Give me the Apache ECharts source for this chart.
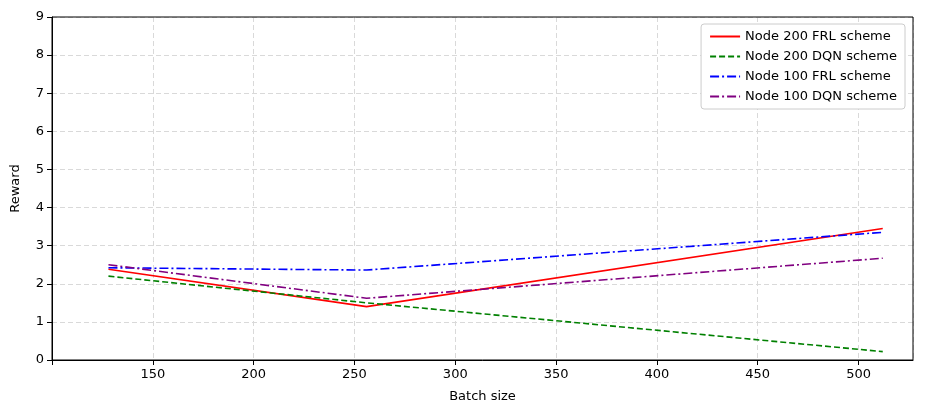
<!DOCTYPE html>
<html>
<head>
<meta charset="utf-8">
<script src="https://cdn.jsdelivr.net/npm/echarts@6/dist/echarts.min.js"></script>
<style>html,body{margin:0;padding:0;background:#fff}#chart{width:931px;height:416px}</style>
</head>
<body>
<div id="chart"></div>
<script>
var batchSizes = [128, 256, 512];
var node200Frl = [2.38, 1.40, 3.45];
var node200Dqn = [2.20, 1.50, 0.22];
var node100Frl = [2.42, 2.36, 3.35];
var node100Dqn = [2.50, 1.62, 2.67];
var seriesNames = ['Node 200 FRL scheme', 'Node 200 DQN scheme', 'Node 100 FRL scheme', 'Node 100 DQN scheme'];

function pairs(ys) {
    var out = [];
    for (var i = 0; i < batchSizes.length; i++) out.push([batchSizes[i], ys[i]]);
    return out;
}

var chart = echarts.init(document.getElementById('chart'));
var font = 'DejaVu Sans';
function line(name, ys, color, dash) {
    return {
        name: name, type: 'line', data: pairs(ys), symbol: 'none',
        lineStyle: {color: color, width: 1.6, type: dash}, itemStyle: {color: color}
    };
}
chart.setOption({
    animation: false,
    textStyle: {fontFamily: font},
    grid: {left: 52, right: 18, top: 17, bottom: 56},
    legend: {
        data: seriesNames, orient: 'vertical', right: 26, top: 24,
        itemWidth: 30, itemHeight: 10, itemGap: 7,
        itemStyle: {opacity: 0},
        backgroundColor: '#fff', borderColor: '#ccc', borderWidth: 1, borderRadius: 3,
        padding: [6, 8], textStyle: {fontSize: 13, color: '#000', fontFamily: font}
    },
    xAxis: {
        type: 'value', min: 100, max: 527, interval: 50,
        name: 'Batch size', nameLocation: 'middle', nameGap: 30,
        nameTextStyle: {fontSize: 13, color: '#000'},
        axisLine: {lineStyle: {color: '#000'}},
        axisTick: {show: true, lineStyle: {color: '#000'}},
        axisLabel: {color: '#000', fontSize: 13, showMaxLabel: false,
            formatter: function (v) { return (v === 100 || v % 50 !== 0) ? '' : v; }},
        splitLine: {show: true, lineStyle: {color: '#d9d9d9', type: [5, 3]}}
    },
    yAxis: {
        type: 'value', min: 0, max: 9, interval: 1,
        name: 'Reward', nameLocation: 'middle', nameGap: 30,
        nameTextStyle: {fontSize: 13, color: '#000'},
        axisLine: {show: true, lineStyle: {color: '#000'}},
        axisTick: {show: true, lineStyle: {color: '#000'}},
        axisLabel: {color: '#000', fontSize: 13},
        splitLine: {show: true, lineStyle: {color: '#d9d9d9', type: [5, 3]}}
    },
    series: [
        line(seriesNames[0], node200Frl, '#ff0000', 'solid'),
        line(seriesNames[1], node200Dqn, '#008000', [6, 3]),
        line(seriesNames[2], node100Frl, '#0000ff', [9, 3, 2, 3]),
        line(seriesNames[3], node100Dqn, '#800080', [9, 3, 2, 3])
    ]
});
// right and top frame
chart.setOption({
    graphic: [{type: 'rect', shape: {x: 52, y: 17, width: 861, height: 343},
        style: {fill: 'none', stroke: '#000', lineWidth: 1}, silent: true}]
});
</script>
</body>
</html>
